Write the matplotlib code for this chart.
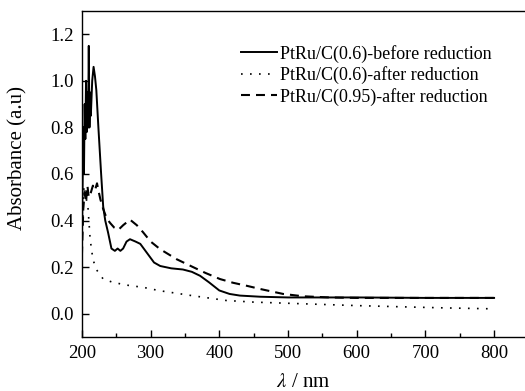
import numpy as np
import matplotlib
matplotlib.use('Agg')
import matplotlib.pyplot as plt

# Du lieu doc tu hinh
wl_before = [200, 201, 202, 203, 204, 205, 206, 207, 208, 209, 210, 211, 212, 213, 215, 217,
             219, 221, 224, 228, 231, 234, 238, 243, 248, 252, 256, 260, 265, 270, 278, 285,
             295, 305, 314, 330, 347, 360, 372, 385, 400, 415, 430, 460, 500, 600, 700, 800]
abs_before = [0.30, 0.55, 0.80, 0.60, 0.90, 0.75, 1.00, 0.78, 0.95, 0.80, 1.15, 0.80, 0.95, 0.85,
              1.00, 1.06, 1.02, 0.96, 0.80, 0.60, 0.46, 0.40, 0.35, 0.28, 0.27, 0.28, 0.27, 0.28,
              0.31, 0.32, 0.31, 0.30, 0.26, 0.22, 0.205, 0.195, 0.19, 0.18, 0.163, 0.135, 0.10,
              0.085, 0.078, 0.073, 0.07, 0.07, 0.068, 0.068]

wl_after06 = [200, 203, 206, 209, 212, 216, 221, 231, 245, 265, 290, 313, 362, 410, 450, 500,
              550, 600, 663, 730, 800]
abs_after06 = [0.30, 0.55, 0.50, 0.45, 0.32, 0.234, 0.19, 0.149, 0.135, 0.123, 0.113, 0.099,
               0.077, 0.057, 0.05, 0.045, 0.04, 0.035, 0.03, 0.025, 0.021]

wl_after095 = [200, 202, 204, 206, 208, 210, 213, 216, 219, 222, 224, 227, 231, 236, 241, 247,
               253, 260, 270, 280, 289, 300, 314, 338, 362, 380, 401, 420, 440, 460, 493, 522,
               560, 600, 800]
abs_after095 = [0.25, 0.45, 0.52, 0.48, 0.55, 0.50, 0.52, 0.55, 0.53, 0.56, 0.53, 0.49, 0.45,
                0.41, 0.39, 0.37, 0.36, 0.38, 0.404, 0.38, 0.35, 0.31, 0.277, 0.234, 0.20, 0.175,
                0.149, 0.133, 0.12, 0.106, 0.085, 0.075, 0.07, 0.068, 0.068]

labels = ['PtRu/C(0.6)-before reduction',
          'PtRu/C(0.6)-after reduction',
          'PtRu/C(0.95)-after reduction']

plt.rcParams['font.family'] = 'Liberation Serif'
plt.rcParams['mathtext.fontset'] = 'stix'

fig = plt.figure(figsize=(5.25, 3.91), dpi=100)
ax = fig.add_axes([0.156, 0.138, 0.844, 0.834])

ax.plot(wl_before, abs_before, color='black', lw=1.4, label=labels[0])
ax.plot(wl_after06, abs_after06, color='black', lw=1.2, linestyle=(0, (1, 4.4)), label=labels[1])
ax.plot(wl_after095, abs_after095, color='black', lw=1.5, linestyle=(0, (4.3, 2.9)), label=labels[2])

ax.set_xlim(200, 845)
ax.set_ylim(-0.1, 1.3)
ax.set_xticks(np.arange(200, 801, 100))
ax.set_xticks(np.arange(250, 800, 100), minor=True)
ax.set_yticks(np.arange(0, 1.21, 0.2))
ax.set_yticklabels(['%.1f' % v for v in np.arange(0, 1.21, 0.2)])
ax.tick_params(direction='in', labelsize=13.5, length=5, width=1, pad=6)
ax.tick_params(which='minor', direction='in', length=3, width=1)
ax.spines['right'].set_visible(False)
for s in ['left', 'bottom', 'top']:
    ax.spines[s].set_linewidth(1.0)

ax.set_xlabel(r'$\lambda$ / nm', fontsize=15)
ax.set_ylabel('Absorbance (a.u)', fontsize=15)
ax.xaxis.set_label_coords(0.5, -0.11)
ax.yaxis.set_label_coords(-0.122, 0.55)

ax.legend(loc='upper left', bbox_to_anchor=(0.33, 0.935), frameon=False, fontsize=13,
          handlelength=2.0, handletextpad=0.2, labelspacing=0.2, borderpad=0.2)

fig.savefig('out.png', dpi=100)
